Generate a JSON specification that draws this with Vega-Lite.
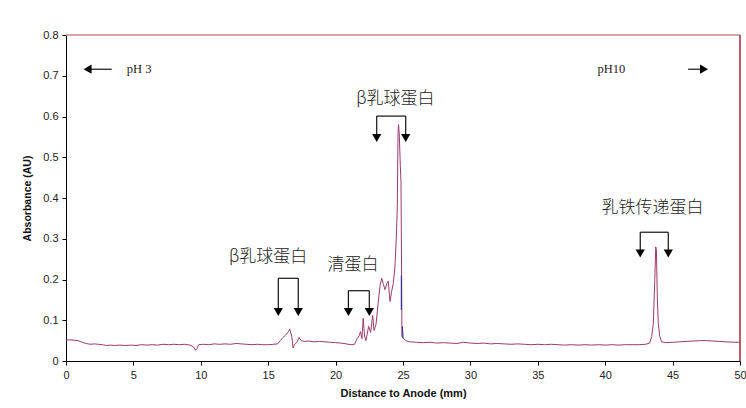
{
  "$schema": "https://vega.github.io/schema/vega-lite/v6.json",
  "width": 674,
  "height": 326,
  "autosize": {"type": "none"},
  "padding": {"left": 66, "top": 35, "right": 6, "bottom": 47},
  "background": "white",
  "config": {
    "view": {"stroke": null},
    "axis": {
      "grid": false,
      "domainColor": "#000000",
      "tickColor": "#000000",
      "tickSize": 4,
      "labelColor": "#222222",
      "labelFont": "Liberation Sans",
      "labelFontSize": 11,
      "labelFlush": false,
      "titleFont": "Liberation Sans",
      "titleFontWeight": "bold",
      "titleColor": "#111111"
    }
  },
  "datasets": {
    "trace": [
      {"x": 0.0, "y": 0.051}, {"x": 0.3, "y": 0.052}, {"x": 0.6, "y": 0.051}, {"x": 0.9, "y": 0.050},
      {"x": 1.2, "y": 0.046}, {"x": 1.5, "y": 0.043}, {"x": 1.8, "y": 0.041}, {"x": 2.1, "y": 0.042},
      {"x": 2.4, "y": 0.041}, {"x": 2.7, "y": 0.040}, {"x": 3.0, "y": 0.038}, {"x": 3.3, "y": 0.039},
      {"x": 3.6, "y": 0.038}, {"x": 4.0, "y": 0.039}, {"x": 4.4, "y": 0.038}, {"x": 4.8, "y": 0.039},
      {"x": 5.2, "y": 0.038}, {"x": 5.6, "y": 0.040}, {"x": 6.0, "y": 0.039}, {"x": 6.4, "y": 0.040},
      {"x": 6.8, "y": 0.039}, {"x": 7.2, "y": 0.041}, {"x": 7.6, "y": 0.040}, {"x": 8.0, "y": 0.041},
      {"x": 8.4, "y": 0.040}, {"x": 8.8, "y": 0.041}, {"x": 9.2, "y": 0.039}, {"x": 9.45, "y": 0.035},
      {"x": 9.6, "y": 0.026}, {"x": 9.7, "y": 0.030}, {"x": 9.85, "y": 0.040}, {"x": 10.2, "y": 0.041},
      {"x": 10.6, "y": 0.040}, {"x": 11.0, "y": 0.042}, {"x": 11.4, "y": 0.041}, {"x": 11.8, "y": 0.042},
      {"x": 12.2, "y": 0.041}, {"x": 12.6, "y": 0.043}, {"x": 13.0, "y": 0.042}, {"x": 13.4, "y": 0.041},
      {"x": 13.8, "y": 0.040}, {"x": 14.2, "y": 0.041}, {"x": 14.6, "y": 0.040}, {"x": 15.0, "y": 0.040},
      {"x": 15.4, "y": 0.041}, {"x": 15.7, "y": 0.042}, {"x": 15.9, "y": 0.050}, {"x": 16.1, "y": 0.058},
      {"x": 16.3, "y": 0.064}, {"x": 16.5, "y": 0.072}, {"x": 16.6, "y": 0.078}, {"x": 16.75, "y": 0.060},
      {"x": 16.85, "y": 0.032}, {"x": 16.95, "y": 0.040}, {"x": 17.1, "y": 0.045}, {"x": 17.3, "y": 0.058},
      {"x": 17.45, "y": 0.050}, {"x": 17.7, "y": 0.048}, {"x": 18.0, "y": 0.049}, {"x": 18.4, "y": 0.047},
      {"x": 18.8, "y": 0.048}, {"x": 19.2, "y": 0.047}, {"x": 19.6, "y": 0.046}, {"x": 20.0, "y": 0.045},
      {"x": 20.4, "y": 0.044}, {"x": 20.8, "y": 0.042}, {"x": 21.1, "y": 0.040}, {"x": 21.4, "y": 0.041},
      {"x": 21.6, "y": 0.055}, {"x": 21.75, "y": 0.062}, {"x": 21.85, "y": 0.072}, {"x": 21.95, "y": 0.055},
      {"x": 22.05, "y": 0.105}, {"x": 22.15, "y": 0.060}, {"x": 22.25, "y": 0.050}, {"x": 22.45, "y": 0.085},
      {"x": 22.6, "y": 0.070}, {"x": 22.75, "y": 0.112}, {"x": 22.85, "y": 0.075}, {"x": 23.0, "y": 0.090},
      {"x": 23.15, "y": 0.140}, {"x": 23.3, "y": 0.185}, {"x": 23.42, "y": 0.203}, {"x": 23.55, "y": 0.188},
      {"x": 23.66, "y": 0.175}, {"x": 23.8, "y": 0.190}, {"x": 23.9, "y": 0.196}, {"x": 24.0, "y": 0.160},
      {"x": 24.04, "y": 0.146}, {"x": 24.15, "y": 0.170}, {"x": 24.28, "y": 0.190}, {"x": 24.4, "y": 0.230},
      {"x": 24.5, "y": 0.300}, {"x": 24.58, "y": 0.380}, {"x": 24.63, "y": 0.560}, {"x": 24.67, "y": 0.580},
      {"x": 24.72, "y": 0.560}, {"x": 24.8, "y": 0.480}, {"x": 24.85, "y": 0.440}, {"x": 24.9, "y": 0.207},
      {"x": 24.92, "y": 0.060}, {"x": 25.05, "y": 0.055}, {"x": 25.2, "y": 0.050}, {"x": 25.5, "y": 0.047},
      {"x": 26.0, "y": 0.046}, {"x": 26.5, "y": 0.045}, {"x": 27.0, "y": 0.046}, {"x": 27.5, "y": 0.044},
      {"x": 28.0, "y": 0.045}, {"x": 28.5, "y": 0.044}, {"x": 29.0, "y": 0.043}, {"x": 29.5, "y": 0.046},
      {"x": 30.0, "y": 0.044}, {"x": 30.5, "y": 0.043}, {"x": 31.0, "y": 0.044}, {"x": 31.5, "y": 0.042},
      {"x": 32.0, "y": 0.043}, {"x": 32.5, "y": 0.042}, {"x": 33.0, "y": 0.041}, {"x": 33.5, "y": 0.042},
      {"x": 34.0, "y": 0.041}, {"x": 34.5, "y": 0.040}, {"x": 35.0, "y": 0.041}, {"x": 35.5, "y": 0.040},
      {"x": 36.0, "y": 0.041}, {"x": 36.5, "y": 0.040}, {"x": 37.0, "y": 0.039}, {"x": 37.5, "y": 0.040},
      {"x": 38.0, "y": 0.039}, {"x": 38.5, "y": 0.040}, {"x": 39.0, "y": 0.039}, {"x": 39.5, "y": 0.040},
      {"x": 40.0, "y": 0.039}, {"x": 40.5, "y": 0.040}, {"x": 41.0, "y": 0.039}, {"x": 41.5, "y": 0.040},
      {"x": 42.0, "y": 0.040}, {"x": 42.5, "y": 0.040}, {"x": 43.0, "y": 0.041}, {"x": 43.3, "y": 0.044},
      {"x": 43.45, "y": 0.060}, {"x": 43.57, "y": 0.092}, {"x": 43.68, "y": 0.200}, {"x": 43.75, "y": 0.280},
      {"x": 43.8, "y": 0.270}, {"x": 43.87, "y": 0.150}, {"x": 43.94, "y": 0.092}, {"x": 44.05, "y": 0.060},
      {"x": 44.19, "y": 0.047}, {"x": 44.5, "y": 0.045}, {"x": 45.0, "y": 0.046}, {"x": 45.5, "y": 0.047},
      {"x": 46.0, "y": 0.048}, {"x": 46.5, "y": 0.049}, {"x": 47.0, "y": 0.050}, {"x": 47.5, "y": 0.050},
      {"x": 48.0, "y": 0.049}, {"x": 48.5, "y": 0.048}, {"x": 49.0, "y": 0.047}, {"x": 49.5, "y": 0.046},
      {"x": 50.0, "y": 0.046}
    ],
    "blue": [
      {"seg": "a", "x": 24.88, "y": 0.21}, {"seg": "a", "x": 24.88, "y": 0.125},
      {"seg": "b", "x": 24.95, "y": 0.085}, {"seg": "b", "x": 25.0, "y": 0.056}
    ],
    "brackets": [
      {"x": 15.75, "x2": 17.23, "y": 0.203, "y2": 0.203},
      {"x": 15.75, "x2": 15.75, "y": 0.203, "y2": 0.128},
      {"x": 17.23, "x2": 17.23, "y": 0.203, "y2": 0.128},
      {"x": 20.95, "x2": 22.5, "y": 0.1725, "y2": 0.1725},
      {"x": 20.95, "x2": 20.95, "y": 0.1725, "y2": 0.128},
      {"x": 22.5, "x2": 22.5, "y": 0.1725, "y2": 0.128},
      {"x": 23.05, "x2": 25.2, "y": 0.601, "y2": 0.601},
      {"x": 23.05, "x2": 23.05, "y": 0.601, "y2": 0.555},
      {"x": 25.2, "x2": 25.2, "y": 0.601, "y2": 0.555},
      {"x": 42.6, "x2": 44.68, "y": 0.316, "y2": 0.316},
      {"x": 42.6, "x2": 42.6, "y": 0.316, "y2": 0.272},
      {"x": 44.68, "x2": 44.68, "y": 0.316, "y2": 0.272},
      {"x": 1.65, "x2": 3.39, "y": 0.716, "y2": 0.716},
      {"x": 46.15, "x2": 47.2, "y": 0.716, "y2": 0.716}
    ],
    "heads": [
      {"x": 15.75, "y": 0.12, "shape": "triangle-down"},
      {"x": 17.23, "y": 0.12, "shape": "triangle-down"},
      {"x": 20.95, "y": 0.12, "shape": "triangle-down"},
      {"x": 22.5, "y": 0.12, "shape": "triangle-down"},
      {"x": 23.05, "y": 0.547, "shape": "triangle-down"},
      {"x": 25.2, "y": 0.547, "shape": "triangle-down"},
      {"x": 42.6, "y": 0.264, "shape": "triangle-down"},
      {"x": 44.68, "y": 0.264, "shape": "triangle-down"},
      {"x": 1.6, "y": 0.716, "shape": "triangle-left"},
      {"x": 47.33, "y": 0.716, "shape": "triangle-right"}
    ],
    "labels": [
      {"x": 15.0, "y": 0.256, "text": "β乳球蛋白"},
      {"x": 21.3, "y": 0.236, "text": "清蛋白"},
      {"x": 24.44, "y": 0.642, "text": "β乳球蛋白"},
      {"x": 43.5, "y": 0.375, "text": "乳铁传递蛋白"}
    ],
    "ph": [
      {"x": 5.43, "y": 0.716, "text": "pH 3"},
      {"x": 40.45, "y": 0.716, "text": "pH10"}
    ],
    "frameTop": [{"y": 0.8}],
    "frameRight": [{"x": 50}]
  },
  "layer": [
    {
      "data": {"name": "trace"},
      "mark": {"type": "line", "color": "#9c3a6c", "strokeWidth": 1, "interpolate": "linear"},
      "encoding": {
        "x": {
          "field": "x", "type": "quantitative",
          "scale": {"domain": [0, 50], "nice": false},
          "axis": {"values": [0, 5, 10, 15, 20, 25, 30, 35, 40, 45, 50], "title": "Distance to Anode (mm)", "titleFontSize": 11, "labelPadding": 4, "titlePadding": 7}
        },
        "y": {
          "field": "y", "type": "quantitative",
          "scale": {"domain": [0, 0.8], "nice": false},
          "axis": {"values": [0, 0.1, 0.2, 0.3, 0.4, 0.5, 0.6, 0.7, 0.8], "labelExpr": "datum.value == 0 ? '0' : format(datum.value, '.1f')", "title": "Absorbance (AU)", "titleFontSize": 10.5, "labelPadding": 4, "titlePadding": 10}
        }
      }
    },
    {
      "data": {"name": "frameTop"},
      "mark": {"type": "rule", "color": "#c98a8a", "strokeWidth": 1.5},
      "encoding": {"y": {"field": "y", "type": "quantitative"}}
    },
    {
      "data": {"name": "frameRight"},
      "mark": {"type": "rule", "color": "#a8283a", "strokeWidth": 1.5},
      "encoding": {"x": {"field": "x", "type": "quantitative"}}
    },
    {
      "data": {"name": "blue"},
      "mark": {"type": "line", "color": "#3a2f9a", "strokeWidth": 1.2},
      "encoding": {
        "x": {"field": "x", "type": "quantitative"},
        "y": {"field": "y", "type": "quantitative"},
        "detail": {"field": "seg"}
      }
    },
    {
      "data": {"name": "brackets"},
      "mark": {"type": "rule", "color": "#111111", "strokeWidth": 1.2},
      "encoding": {
        "x": {"field": "x", "type": "quantitative"},
        "x2": {"field": "x2"},
        "y": {"field": "y", "type": "quantitative"},
        "y2": {"field": "y2"}
      }
    },
    {
      "data": {"name": "heads"},
      "mark": {"type": "point", "filled": true, "color": "#000000", "size": 85, "opacity": 1},
      "encoding": {
        "x": {"field": "x", "type": "quantitative"},
        "y": {"field": "y", "type": "quantitative"},
        "shape": {"field": "shape", "type": "nominal", "scale": null}
      }
    },
    {
      "data": {"name": "labels"},
      "mark": {"type": "text", "font": "Noto Sans CJK SC", "fontSize": 17, "fontWeight": 300, "color": "#222222", "align": "center", "baseline": "middle"},
      "encoding": {
        "x": {"field": "x", "type": "quantitative"},
        "y": {"field": "y", "type": "quantitative"},
        "text": {"field": "text"}
      }
    },
    {
      "data": {"name": "ph"},
      "mark": {"type": "text", "font": "Liberation Serif", "fontSize": 12.5, "color": "#222222", "align": "center", "baseline": "middle"},
      "encoding": {
        "x": {"field": "x", "type": "quantitative"},
        "y": {"field": "y", "type": "quantitative"},
        "text": {"field": "text"}
      }
    }
  ]
}
